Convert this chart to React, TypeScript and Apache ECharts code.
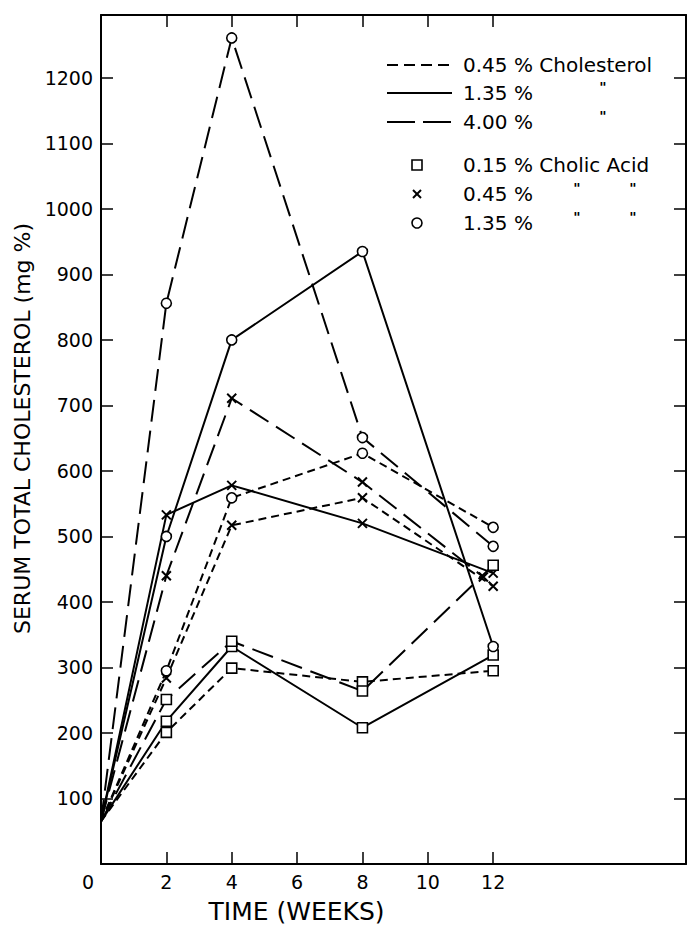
import React, { useEffect, useRef } from "react";
import * as echarts from "echarts";

// ---- data (weeks, serum total cholesterol mg%) ----
const weeks = [0, 2, 4, 8, 12];
const shortDashSquare = [65, 201, 299, 278, 295];
const shortDashCross = [65, 284, 517, 559, 424];
const shortDashCircle = [65, 295, 559, 627, 514];
const solidSquare = [65, 218, 332, 208, 319];
const solidCross = [65, 533, 578, 520, 444];
const solidCircle = [65, 500, 800, 935, 332];
const longDashSquare = [65, 251, 340, 264, 456];
const longDashCrossWeeks = [0, 2, 4, 8, 11.7];
const longDashCross = [65, 440, 711, 583, 438];
const longDashCircle = [65, 856, 1261, 651, 485];

const xLabelValues = [0, 2, 4, 6, 8, 10, 12];
const xTickValues = [2, 4, 6, 8, 10, 12];
const yTickValues = [100, 200, 300, 400, 500, 600, 700, 800, 900, 1000, 1100, 1200];

const legendLines = [
  { label: "0.45 % Cholesterol", dash: "short", ditto: false },
  { label: "1.35 %", dash: "solid", ditto: true },
  { label: "4.00 %", dash: "long", ditto: true },
];
const legendMarkers = [
  { label: "0.15 % Cholic Acid", marker: "square", ditto: false },
  { label: "0.45 %", marker: "cross", ditto: true },
  { label: "1.35 %", marker: "circle", ditto: true },
];

const FONT = '"DejaVu Sans", "Liberation Sans", sans-serif';
const CROSS = "path://M0 0L10 10M10 0L0 10";
const SHORT: number[] = [8, 5];
const LONG: number[] = [22, 9];

function makeSeries(xs: number[], ys: number[], dash: string, marker: string) {
  const symbol = marker === "square" ? "rect" : marker === "circle" ? "circle" : CROSS;
  return {
    type: "line",
    data: xs.map((x, i) => (i === 0 ? { value: [x, ys[i]], symbol: "none" } : { value: [x, ys[i]] })),
    symbol,
    symbolSize: marker === "cross" ? 9 : 10,
    showAllSymbol: true,
    lineStyle: {
      color: "#000",
      width: 2,
      type: dash === "short" ? SHORT : dash === "long" ? LONG : "solid",
    },
    itemStyle: {
      color: "#fff",
      borderColor: "#000",
      borderWidth: marker === "cross" ? 2 : 1.6,
    },
    emphasis: { disabled: true },
    silent: true,
  };
}

export default function App() {
  const ref = useRef<HTMLDivElement>(null);
  useEffect(() => {
    if (!ref.current) return;
    const chart = echarts.init(ref.current, null, { renderer: "svg" });

    const graphic: any[] = [];
    const lx1 = 387, lx2 = 452, tx = 463;
    const lineRowsY = [65, 93, 122];
    const ditto = (x: number, y: number) => ({
      type: "text",
      x,
      y: y - 6,
      style: { text: '"', font: `bold 14px ${FONT}`, fill: "#000", align: "center", textAlign: "center", verticalAlign: "middle", textVerticalAlign: "middle" },
    });
    legendLines.forEach((l, i) => {
      const y = lineRowsY[i];
      graphic.push({
        type: "line",
        shape: { x1: lx1, y1: y, x2: lx2, y2: y },
        style: {
          stroke: "#000",
          lineWidth: 2,
          lineDash: l.dash === "short" ? [11, 6] : l.dash === "long" ? [28, 8] : null,
        },
      });
      graphic.push({
        type: "text",
        x: tx,
        y,
        style: { text: l.label, font: `20px ${FONT}`, fill: "#000", verticalAlign: "middle", textVerticalAlign: "middle" },
      });
      if (l.ditto) graphic.push(ditto(603, y));
    });
    const markRowsY = [165, 194, 223];
    const mx = 417;
    legendMarkers.forEach((m, i) => {
      const y = markRowsY[i];
      if (m.marker === "square") {
        graphic.push({ type: "rect", shape: { x: mx - 5, y: y - 5, width: 10, height: 10 }, style: { fill: "#fff", stroke: "#000", lineWidth: 1.6 } });
      } else if (m.marker === "circle") {
        graphic.push({ type: "circle", shape: { cx: mx, cy: y, r: 5 }, style: { fill: "#fff", stroke: "#000", lineWidth: 1.6 } });
      } else {
        graphic.push({ type: "line", shape: { x1: mx - 4, y1: y - 4, x2: mx + 4, y2: y + 4 }, style: { stroke: "#000", lineWidth: 2 } });
        graphic.push({ type: "line", shape: { x1: mx + 4, y1: y - 4, x2: mx - 4, y2: y + 4 }, style: { stroke: "#000", lineWidth: 2 } });
      }
      graphic.push({
        type: "text",
        x: tx,
        y,
        style: { text: m.label, font: `20px ${FONT}`, fill: "#000", verticalAlign: "middle", textVerticalAlign: "middle" },
      });
      if (m.ditto) {
        graphic.push(ditto(577, y));
        graphic.push(ditto(633, y));
      }
    });

    const axisLineStyle = { lineStyle: { color: "#000", width: 2 } };
    const tickStyle = { lineStyle: { color: "#000", width: 1.5 } };

    chart.setOption({
      animation: false,
      backgroundColor: "#fff",
      grid: { left: 101, right: 3, top: 15, bottom: 56, containLabel: false },
      xAxis: [
        {
          type: "value",
          min: 0,
          max: 17.9,
          interval: 2,
          position: "bottom",
          axisLine: { show: true, onZero: false, ...axisLineStyle },
          axisTick: { show: true, inside: true, length: 12, customValues: xTickValues, ...tickStyle },
          axisLabel: {
            customValues: xLabelValues,
            margin: 8,
            color: "#000",
            fontFamily: FONT,
            fontSize: 19,
            formatter: (v: number) => (v === 0 ? "{z|0}" : String(v)),
            rich: { z: { fontFamily: FONT, fontSize: 19, color: "#000", padding: [0, 26, 0, 0] } },
          },
          splitLine: { show: false },
          name: "TIME (WEEKS)",
          nameLocation: "middle",
          nameGap: 35,
          nameTextStyle: { color: "#000", fontFamily: FONT, fontSize: 25, padding: [0, 194, 0, 0] },
        },
        {
          type: "value",
          min: 0,
          max: 17.9,
          interval: 2,
          position: "top",
          axisLine: { show: true, onZero: false, ...axisLineStyle },
          axisTick: { show: true, inside: true, length: 12, customValues: xTickValues, ...tickStyle },
          axisLabel: { show: false },
          splitLine: { show: false },
        },
      ],
      yAxis: [
        {
          type: "value",
          min: 0,
          max: 1296,
          interval: 100,
          position: "left",
          axisLine: { show: true, onZero: false, ...axisLineStyle },
          axisTick: { show: true, inside: true, length: 12, customValues: yTickValues, ...tickStyle },
          axisLabel: {
            customValues: yTickValues,
            margin: 8,
            color: "#000",
            fontFamily: FONT,
            fontSize: 19,
            formatter: (v: number) => String(v),
          },
          splitLine: { show: false },
          name: "SERUM TOTAL CHOLESTEROL (mg %)",
          nameLocation: "middle",
          nameRotate: 90,
          nameGap: 56,
          nameTextStyle: { color: "#000", fontFamily: FONT, fontSize: 22, padding: [0, 0, 0, 22] },
        },
        {
          type: "value",
          min: 0,
          max: 1296,
          interval: 100,
          position: "right",
          axisLine: { show: true, onZero: false, ...axisLineStyle },
          axisTick: { show: true, inside: true, length: 12, customValues: yTickValues, ...tickStyle },
          axisLabel: { show: false },
          splitLine: { show: false },
        },
      ],
      series: [
        makeSeries(weeks, shortDashSquare, "short", "square"),
        makeSeries(weeks, shortDashCross, "short", "cross"),
        makeSeries(weeks, shortDashCircle, "short", "circle"),
        makeSeries(weeks, solidSquare, "solid", "square"),
        makeSeries(weeks, solidCross, "solid", "cross"),
        makeSeries(weeks, solidCircle, "solid", "circle"),
        makeSeries(weeks, longDashSquare, "long", "square"),
        makeSeries(longDashCrossWeeks, longDashCross, "long", "cross"),
        makeSeries(weeks, longDashCircle, "long", "circle"),
      ],
      graphic,
    });
    return () => chart.dispose();
  }, []);

  return (
    <div
      ref={ref}
      style={{ position: "fixed", left: 0, top: 0, width: 689, height: 929, background: "#fff" }}
    />
  );
}
